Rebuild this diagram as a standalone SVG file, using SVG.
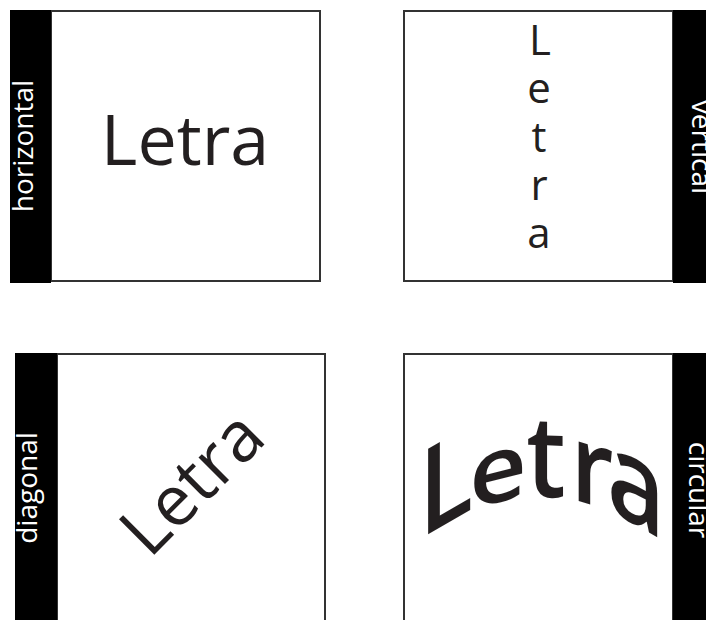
<svg xmlns="http://www.w3.org/2000/svg" width="706" height="620" viewBox="0 0 706 620">
<style>
.box{fill:#fff;stroke:#333;stroke-width:2}
.bar{fill:#000}
.lbl{font-family:"Open Sans","Noto Sans",sans-serif;font-size:28px;fill:#fff;text-anchor:middle}
.big{font-family:"Open Sans","Noto Sans",sans-serif;fill:#231f20;text-anchor:middle}
.arc{font-family:"Open Sans","Noto Sans",sans-serif;font-weight:600;font-size:100px;fill:#231f20;text-anchor:middle}
</style>
<rect width="706" height="620" fill="#fff"/>
<g id="horizontal">
  <rect class="box" x="51" y="11" width="269" height="270"/>
  <rect class="bar" x="10" y="10" width="41" height="273"/>
  <text class="lbl" transform="translate(33,146) rotate(-90)">horizontal</text>
  <text class="big" x="185" y="165" font-size="70">Letra</text>
</g>
<g id="vertical">
  <rect class="box" x="404" y="11" width="269" height="270"/>
  <rect class="bar" x="673" y="10" width="40" height="273"/>
  <text class="lbl" transform="translate(692,147) rotate(90)">vertical</text>
  <text class="big" font-size="42"><tspan x="540" y="55">L</tspan><tspan x="539" y="103">e</tspan><tspan x="539" y="152">t</tspan><tspan x="539" y="200">r</tspan><tspan x="539" y="248">a</tspan></text>
</g>
<g id="diagonal">
  <rect class="box" x="57" y="354" width="268" height="280"/>
  <rect class="bar" x="15" y="353" width="42" height="280"/>
  <text class="lbl" transform="translate(37,488) rotate(-90)">diagonal</text>
  <text class="big" font-size="70" transform="translate(209,500) rotate(-45)">Letra</text>
</g>
<g id="circular">
  <rect class="box" x="404" y="354" width="269" height="280"/>
  <rect class="bar" x="673" y="353" width="40" height="280"/>
  <text class="lbl" transform="translate(689,490) rotate(90)">circular</text>
  <g class="arc">
    <text transform="translate(446,524) skewY(-30) scale(1,1.2)">L</text>
    <text transform="translate(498,502) skewY(-14) scale(1,0.93)">e</text>
    <text transform="translate(546,497) skewY(2) scale(1,1.14)">t</text>
    <text transform="translate(592,505) skewY(17) scale(1,1.1)">r</text>
    <text transform="translate(636,525) skewY(30) scale(1,1.2)">a</text>
  </g>
</g>
<g id="connectors"></g>
</svg>
